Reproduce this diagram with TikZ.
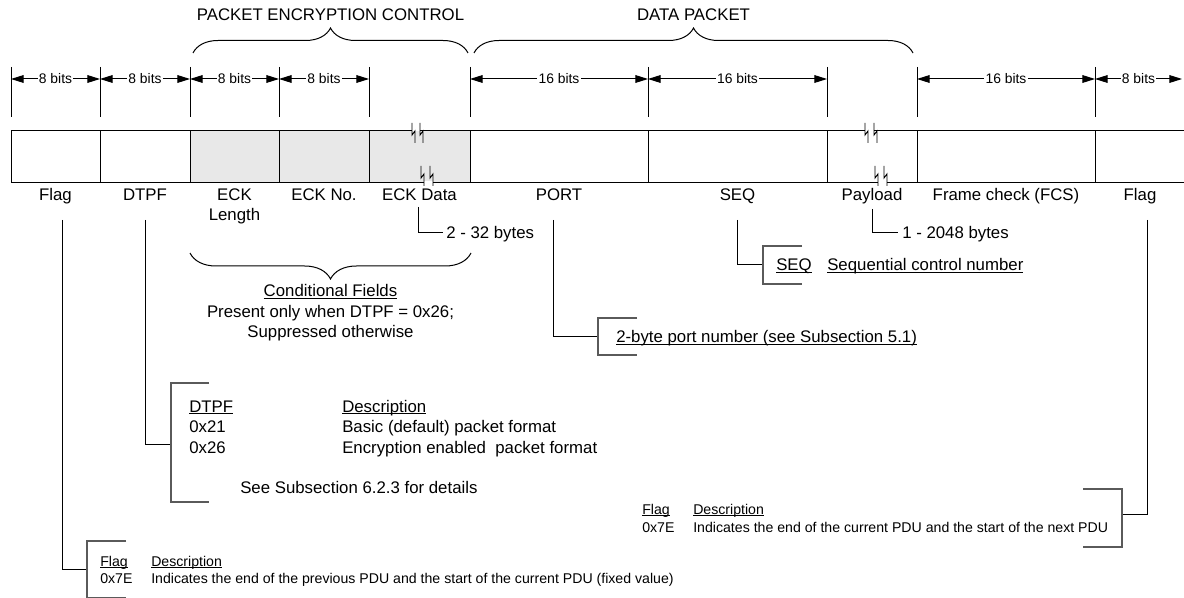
\documentclass[tikz,border=0pt]{standalone}
\usepackage{fontspec}
\setmainfont{Liberation Sans}
\usetikzlibrary{arrows.meta,decorations.pathreplacing}
\definecolor{eckgray}{HTML}{E8E8E8}
\definecolor{brgray}{HTML}{5A5A5A}
\newcommand\brkmark[2]{\draw[brkline] (#1,#2) -- (#1,#2+12) -- (#1+3,#2+8) -- (#1+3,#2+20);}
\newsavebox\ulbox
\newcommand\ulx[1]{\sbox\ulbox{#1}\rlap{\rule[-0.13em]{\wd\ulbox}{0.055em}}\usebox\ulbox}
\begin{document}
\begin{tikzpicture}[x=0.75pt,y=-0.75pt,
  lbl/.style={font=\fontsize{12.6}{15}\selectfont, inner sep=0pt},
  sml/.style={font=\fontsize{10.6}{12}\selectfont, inner sep=0pt},
  bitlbl/.style={font=\fontsize{10.4}{12}\selectfont, fill=white, inner xsep=1pt, inner ysep=1pt},
  cell/.style={draw=black, line width=0.75pt, minimum height=52*0.75pt, inner sep=0pt, anchor=north west},
  tickline/.style={black, line width=0.75pt},
  dimarr/.style={black, line width=0.75pt, {Triangle[length=9.5pt,width=5.8pt]}-{Triangle[length=9.5pt,width=5.8pt]}},
  leader/.style={black, line width=0.75pt},
  brkt/.style={brgray, line width=0.9pt},
  brkline/.style={black, line width=0.7pt},
  bracetop/.style={black, line width=0.75pt, decorate, decoration={brace, amplitude=18.75pt}},
  bracebot/.style={black, line width=0.75pt, decorate, decoration={brace, amplitude=19.5pt}},
]
\useasboundingbox (0,0) rectangle (1184,598);

% ---- top titles and braces
\node[lbl, anchor=base] (pec) at (330.5,21) {PACKET ENCRYPTION CONTROL};
\node[lbl, anchor=base] (dpk) at (693.5,21) {DATA PACKET};
\draw[bracetop] (193,53) -- (468,53);
\draw[bracetop] (474,53) -- (913,53);

% ---- bit-width dimension lines
\foreach \x/\n in {11/t0,100/t1,190/t2,279/t3,369/t4,470/t5,648/t6,827/t7,917/t8,1095/t9}{
  \draw[tickline] (\x,67) -- (\x,117);
  \coordinate (\n) at (\x,79);
}
\coordinate (t10) at (1182,79);
\draw[dimarr] (t0) -- node[bitlbl] (b0) {8 bits} (t1);
\draw[dimarr] (t1) -- node[bitlbl] (b1) {8 bits} (t2);
\draw[dimarr] (t2) -- node[bitlbl] (b2) {8 bits} (t3);
\draw[dimarr] (t3) -- node[bitlbl] (b3) {8 bits} (t4);
\draw[dimarr] (t5) -- node[bitlbl] (b5) {16 bits} (t6);
\draw[dimarr] (t6) -- node[bitlbl] (b6) {16 bits} (t7);
\draw[dimarr] (t8) -- node[bitlbl] (b8) {16 bits} (t9);
\draw[dimarr] (t9) -- node[bitlbl] (b9) {8 bits} (t10);

% ---- packet fields
\node[cell, minimum width=89*0.75pt] (fFlag1) at (11,130) {};
\node[cell, minimum width=90*0.75pt] (fDTPF) at (100,130) {};
\node[cell, fill=eckgray, minimum width=89*0.75pt] (fECKL) at (190,130) {};
\node[cell, fill=eckgray, minimum width=90*0.75pt] (fECKN) at (279,130) {};
\node[cell, fill=eckgray, minimum width=101*0.75pt] (fECKD) at (369,130) {};
\node[cell, minimum width=178*0.75pt] (fPORT) at (470,130) {};
\node[cell, minimum width=179*0.75pt] (fSEQ) at (648,130) {};
\node[cell, minimum width=90*0.75pt] (fPay) at (827,130) {};
\node[cell, minimum width=178*0.75pt] (fFCS) at (917,130) {};
\node[cell, minimum width=90*0.75pt] (fFlag2) at (1095,130) {};

% ---- break marks (variable length)
\fill[white] (412.4,128.6) rectangle (419.6,131.4);
\fill[white] (424.4,180.6) rectangle (432.6,183.4);
\fill[white] (865.4,128.6) rectangle (873.6,131.4);
\fill[white] (878.4,180.6) rectangle (886.6,183.4);
\brkmark{412}{123}
\brkmark{420}{123}
\brkmark{421}{166}
\brkmark{430}{166}
\brkmark{865}{123}
\brkmark{874}{123}
\brkmark{875}{166}
\brkmark{884}{166}

% ---- field labels
\node[lbl, anchor=base] (lFlag1) at (55.5,201) {Flag};
\node[lbl, anchor=base] (lDTPF) at (145,201) {DTPF};
\node[lbl, anchor=base] (lECKL1) at (234.5,201) {ECK};
\node[lbl, anchor=base] (lECKL2) at (234.5,221) {Length};
\node[lbl, anchor=base] (lECKN) at (324,201) {ECK No.};
\node[lbl, anchor=base] (lECKD) at (419.5,201) {ECK Data};
\node[lbl, anchor=base] (lPORT) at (559,201) {PORT};
\node[lbl, anchor=base] (lSEQ) at (737.5,201) {SEQ};
\node[lbl, anchor=base] (lPay) at (872,201) {Payload};
\node[lbl, anchor=base] (lFCS) at (1006,201) {Frame check (FCS)};
\node[lbl, anchor=base] (lFlag2) at (1140,201) {Flag};

% ---- size notes
\coordinate (eckTop) at (418,207);
\node[lbl, anchor=base west] (eckSize) at (446,239) {2 - 32 bytes};
\draw[leader] (eckTop) |- ([xshift=-3*0.75pt]eckSize.west |- 0,233);
\coordinate (payTop) at (872,209);
\node[lbl, anchor=base west] (paySize) at (902,239) {1 - 2048 bytes};
\draw[leader] (payTop) |- ([xshift=-4*0.75pt]paySize.west |- 0,233);

% ---- conditional fields brace
\draw[bracebot] (471,253) -- (190,253);
\node[lbl, anchor=base] (cond1) at (330.5,297) {\ulx{Conditional Fields}};
\node[lbl, anchor=base] (cond2) at (330.5,318) {Present only when DTPF = 0x26;};
\node[lbl, anchor=base] (cond3) at (330.5,338) {Suppressed otherwise};

% ---- SEQ note
\coordinate (seqTop) at (737,220);
\coordinate (seqBr) at (763,265);
\draw[leader] (seqTop) |- (seqBr);
\draw[brkt] (802,246) -- (763,246) -- (763,284) -- (802,284);
\node[lbl, anchor=base west] (seqA) at (776,271) {\ulx{SEQ}};
\node[lbl, anchor=base west] (seqB) at (827,271) {\ulx{Sequential control number}};

% ---- PORT note
\coordinate (portTop) at (553,220);
\coordinate (portBr) at (598,337);
\draw[leader] (portTop) |- (portBr);
\draw[brkt] (637,318) -- (598,318) -- (598,355) -- (637,355);
\node[lbl, anchor=base west] (portA) at (616,343) {\ulx{2-byte port number (see Subsection 5.1)}};

% ---- DTPF table
\coordinate (dtpfTop) at (145,220);
\coordinate (dtpfBr) at (171,444);
\draw[leader] (dtpfTop) |- (dtpfBr);
\draw[brkt] (209,383) -- (171,383) -- (171,502) -- (209,502);
\node[lbl, anchor=base west] (dA1) at (189,412) {\ulx{DTPF}};
\node[lbl, anchor=base west] (dB1) at (342,412) {\ulx{Description}};
\node[lbl, anchor=base west] (dA2) at (189,432) {0x21};
\node[lbl, anchor=base west] (dB2) at (342,432) {Basic (default) packet format};
\node[lbl, anchor=base west] (dA3) at (189,453) {0x26};
\node[lbl, anchor=base west] (dB3) at (342,453) {Encryption enabled\ \ packet format};
\node[lbl, anchor=base west] (dSee) at (240,493) {See Subsection 6.2.3 for details};

% ---- right Flag note
\coordinate (flag2Top) at (1147,220);
\coordinate (flag2Br) at (1122,514);
\draw[leader] (flag2Top) |- (flag2Br);
\draw[brkt] (1083,489) -- (1122,489) -- (1122,547) -- (1083,547);
\node[sml, anchor=base west] (rA1) at (642,514) {\ulx{Flag}};
\node[sml, anchor=base west] (rB1) at (693,514) {\ulx{Description}};
\node[sml, anchor=base west] (rA2) at (642,532) {0x7E};
\node[sml, anchor=base west] (rB2) at (693,532) {Indicates the end of the current PDU and the start of the next PDU};

% ---- left Flag note
\coordinate (flag1Top) at (62,220);
\coordinate (flag1Br) at (87,569);
\draw[leader] (flag1Top) |- (flag1Br);
\draw[brkt] (126,541) -- (87,541) -- (87,597.5) -- (126,597.5);
\node[sml, anchor=base west] (lA1) at (100,566) {\ulx{Flag}};
\node[sml, anchor=base west] (lB1) at (151,566) {\ulx{Description}};
\node[sml, anchor=base west] (lA2) at (100,583) {0x7E};
\node[sml, anchor=base west] (lB2) at (151,583) {Indicates the end of the previous PDU and the start of the current PDU (fixed value)};
\end{tikzpicture}
\end{document}
